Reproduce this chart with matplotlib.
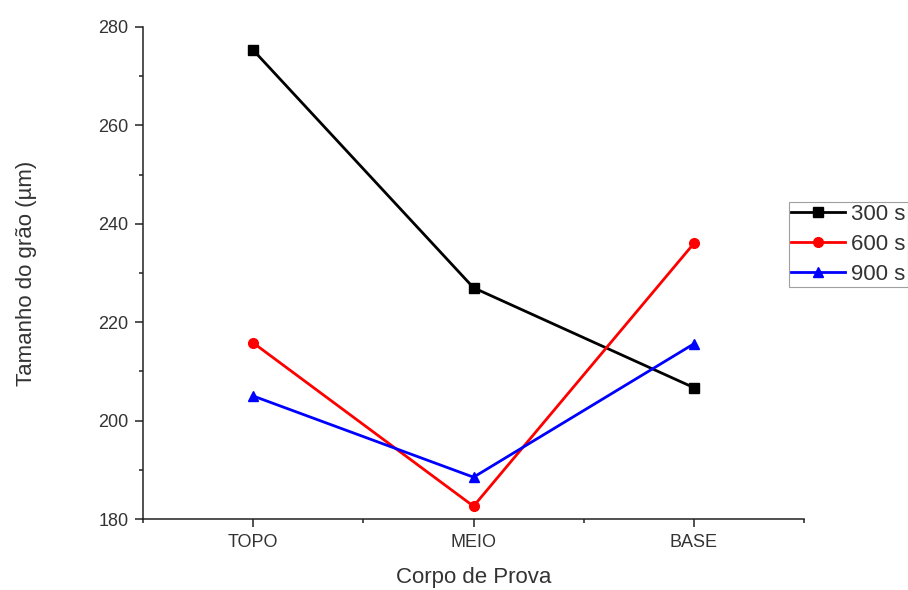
import matplotlib
matplotlib.use('Agg')
import matplotlib.pyplot as plt
from matplotlib.ticker import MultipleLocator, FixedLocator

plt.rcParams['font.family'] = ['Liberation Sans', 'DejaVu Sans']

categorias = ['TOPO', 'MEIO', 'BASE']
t300 = [275.3, 227.0, 206.7]
t600 = [215.8, 182.6, 236.0]
t900 = [205.0, 188.5, 215.6]
rotulos = ['300 s', '600 s', '900 s']

fig = plt.figure(figsize=(9.08, 5.90), dpi=100)
ax = fig.add_axes([0.1575, 0.1203, 0.728, 0.834])

x = [1, 2, 3]
ax.plot(x, t300, '-s', color='black', lw=2.0, ms=6.5, label=rotulos[0])
ax.plot(x, t600, '-o', color='#ff0000', lw=2.0, ms=7, label=rotulos[1])
ax.plot(x, t900, '-^', color='#0000ff', lw=2.0, ms=7.5, label=rotulos[2])

ax.set_xlim(0.5, 3.5)
ax.set_ylim(180, 280)
ax.set_xticks(x)
ax.set_xticklabels(categorias)
ax.xaxis.set_minor_locator(FixedLocator([0.5, 1.5, 2.5, 3.5]))
ax.yaxis.set_major_locator(MultipleLocator(20))
ax.yaxis.set_minor_locator(MultipleLocator(10))

for s in ['top', 'right']:
    ax.spines[s].set_visible(False)
for s in ['left', 'bottom']:
    ax.spines[s].set_linewidth(1.1)
    ax.spines[s].set_color('#222222')

ax.tick_params(which='major', direction='out', length=5.5, width=1.1,
               labelsize=13, labelcolor='#333333', color='#222222', pad=5)
ax.tick_params(which='minor', direction='out', length=3, width=1.1, color='#222222')

ax.set_xlabel('Corpo de Prova', fontsize=16, color='#333333', labelpad=12)
ax.set_ylabel('Tamanho do grão (µm)', fontsize=16, color='#333333', labelpad=44)

leg = ax.legend(loc='upper left', bbox_to_anchor=(789 / 908, (590 - 202) / 590),
                bbox_transform=fig.transFigure, borderaxespad=0, fontsize=16,
                frameon=True, fancybox=False, handlelength=2.4, handletextpad=0.3,
                labelspacing=0.4, borderpad=0.1)
leg.get_frame().set_edgecolor('#888888')
leg.get_frame().set_linewidth(0.8)
for t in leg.get_texts():
    t.set_color('#333333')

fig.savefig('out.png', dpi=100)
